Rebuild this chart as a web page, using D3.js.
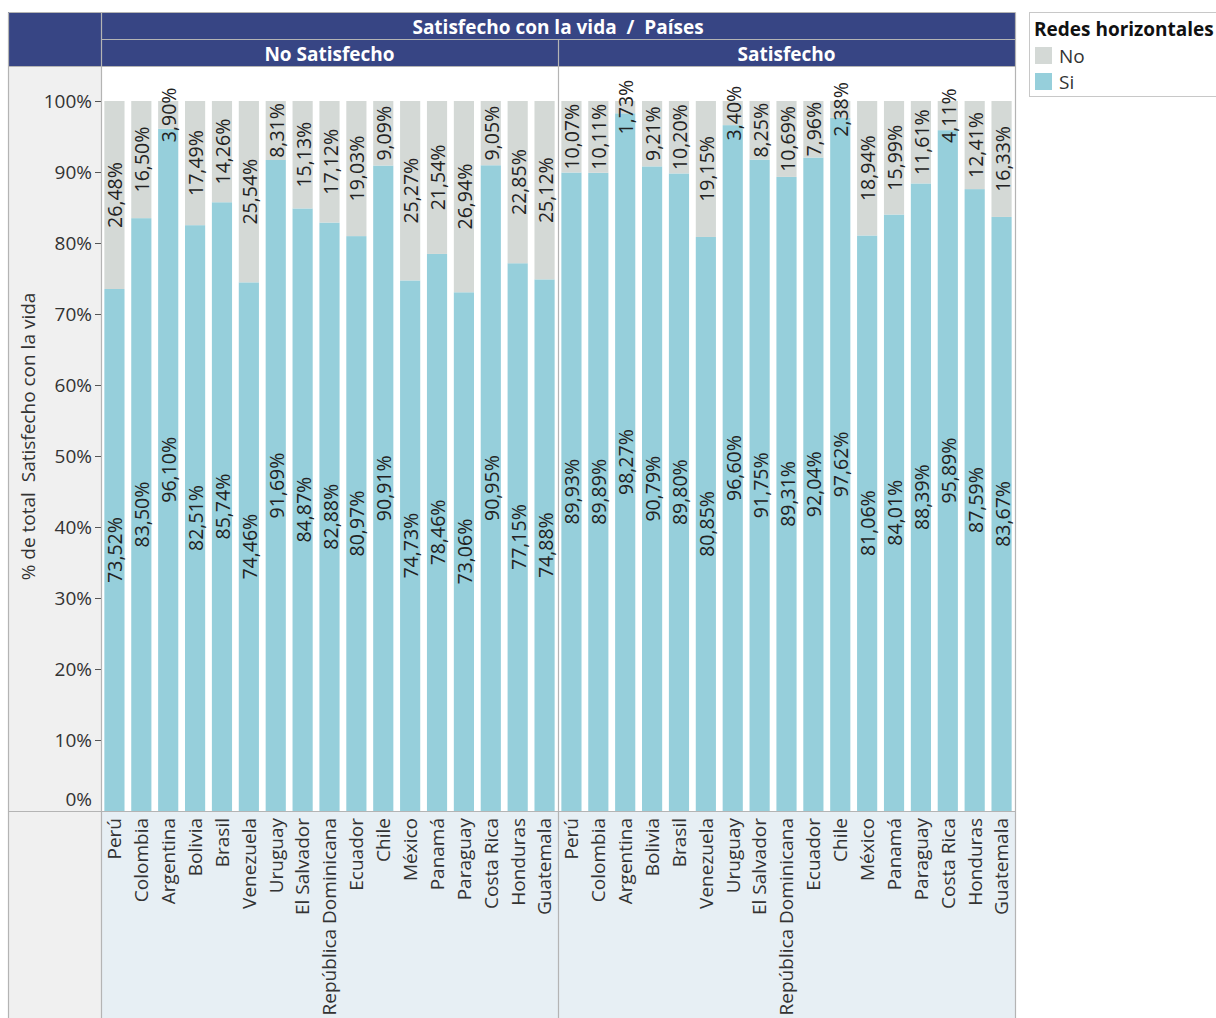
<!DOCTYPE html>
<html>
<head>
<meta charset="utf-8">
<script src="https://d3js.org/d3.v7.min.js"></script>
<style>
  body { margin: 0; background: #fff; }
  text { font-family: "Open Sans", "Noto Sans", sans-serif; }
</style>
</head>
<body>
<div id="draw"></div>
<script>
// countries, same order in both panels
var countries = ["Perú", "Colombia", "Argentina", "Bolivia", "Brasil", "Venezuela", "Uruguay",
	"El Salvador", "República Dominicana", "Ecuador", "Chile", "México", "Panamá", "Paraguay",
	"Costa Rica", "Honduras", "Guatemala"];

var panels = ["No Satisfecho", "Satisfecho"];
var seriesNames = ["No", "Si"];

// % Si / No of "Redes horizontales" per panel
var noSatSi = [73.52, 83.50, 96.10, 82.51, 85.74, 74.46, 91.69, 84.87, 82.88, 80.97, 90.91, 74.73, 78.46, 73.06, 90.95, 77.15, 74.88];
var noSatNo = [26.48, 16.50, 3.90, 17.49, 14.26, 25.54, 8.31, 15.13, 17.12, 19.03, 9.09, 25.27, 21.54, 26.94, 9.05, 22.85, 25.12];
var satSi = [89.93, 89.89, 98.27, 90.79, 89.80, 80.85, 96.60, 91.75, 89.31, 92.04, 97.62, 81.06, 84.01, 88.39, 95.89, 87.59, 83.67];
var satNo = [10.07, 10.11, 1.73, 9.21, 10.20, 19.15, 3.40, 8.25, 10.69, 7.96, 2.38, 18.94, 15.99, 11.61, 4.11, 12.41, 16.33];

var yTicks = [0, 10, 20, 30, 40, 50, 60, 70, 80, 90, 100];

var width = 1216, height = 1018;
var left = 8, axisRight = 101, plotRight = 1015;
var top1 = 12, top2 = 39, plotTop = 66, plotBottom = 811, bottom = 1018;
var headColor = "#374584", lineColor = "#b4b4b4";
var colors = { "No": "#d4d9d6", "Si": "#96cfdb" };

var svg = d3.select("#draw").append("svg")
	.attr("width", width)
	.attr("height", height);

var panelWidth = (plotRight - axisRight) / 2;

var y = d3.scaleLinear()
	.domain([0, 100])
	.range([plotBottom, plotBottom - 710]);

// backgrounds
svg.append("rect")
	.attr("x", left).attr("y", plotTop)
	.attr("width", axisRight - left).attr("height", bottom - plotTop)
	.attr("fill", "#f0f0f0");
svg.append("rect")
	.attr("x", axisRight).attr("y", plotBottom)
	.attr("width", plotRight - axisRight).attr("height", bottom - plotBottom)
	.attr("fill", "#e7eff4");
svg.append("rect")
	.attr("x", left).attr("y", top1)
	.attr("width", plotRight - left).attr("height", plotTop - top1)
	.attr("fill", headColor);

svg.append("text")
	.attr("x", axisRight + panelWidth)
	.attr("y", (top1 + top2) / 2 + 2)
	.attr("dy", "0.35em")
	.attr("text-anchor", "middle")
	.attr("fill", "white")
	.attr("xml:space", "preserve")
	.style("font-weight", "bold")
	.style("font-size", "19px")
	.text("Satisfecho con la vida  /  Países");

var data = [
	{ panel: panels[0], si: noSatSi, no: noSatNo },
	{ panel: panels[1], si: satSi, no: satNo }
];

var fmt = function(v){ return d3.format(".2f")(v).replace(".", ",") + "%"; };

data.forEach(function(p, k){
	var x0 = axisRight + k * panelWidth;
	var x = d3.scaleBand()
		.domain(countries)
		.range([x0, x0 + panelWidth])
		.paddingInner(0.25)
		.paddingOuter(0.125);

	svg.append("text")
		.attr("x", x0 + panelWidth / 2)
		.attr("y", (top2 + plotTop) / 2 + 2)
		.attr("dy", "0.35em")
		.attr("text-anchor", "middle")
		.attr("fill", "white")
		.style("font-weight", "bold")
		.style("font-size", "19px")
		.text(p.panel);

	var rows = countries.map(function(c, i){
		return { country: c, Si: p.si[i], No: p.no[i] };
	});
	var stacked = d3.stack().keys(["Si", "No"])(rows);

	var g = svg.append("g");
	stacked.forEach(function(layer){
		g.selectAll(null)
			.data(layer)
			.enter()
			.append("rect")
			.attr("x", function(d){ return x(d.data.country); })
			.attr("width", x.bandwidth())
			.attr("y", function(d){ return y(d[1]); })
			.attr("height", function(d){ return y(d[0]) - y(d[1]); })
			.attr("fill", colors[layer.key]);
	});
	stacked.forEach(function(layer){
		g.selectAll(null)
			.data(layer)
			.enter()
			.append("text")
			.attr("transform", function(d){
				var cx = x(d.data.country) + x.bandwidth() / 2 + 1;
				var cy = y((d[0] + d[1]) / 2);
				return "translate(" + cx + "," + cy + ") rotate(-90)";
			})
			.attr("dy", "0.36em")
			.attr("text-anchor", "middle")
			.attr("fill", "#222")
			.style("font-size", "19.5px")
			.text(function(d){ return fmt(d.data[layer.key]); });
	});

	// country labels
	g.selectAll(null)
		.data(countries)
		.enter()
		.append("text")
		.attr("transform", function(d){
			return "translate(" + (x(d) + x.bandwidth() / 2) + "," + (plotBottom + 7) + ") rotate(-90)";
		})
		.attr("dy", "0.36em")
		.attr("text-anchor", "end")
		.attr("fill", "#333")
		.style("font-size", "19px")
		.text(function(d){ return d; });
});

// y axis
var axis = svg.append("g")
	.attr("transform", "translate(" + axisRight + ",0)")
	.call(d3.axisLeft(y).tickValues(yTicks).tickSize(6).tickPadding(3)
		.tickFormat(function(d){ return d + "%"; }));
axis.select(".domain").remove();
axis.selectAll(".tick line").attr("stroke", "#555");
axis.selectAll(".tick text")
	.attr("fill", "#333")
	.style("font-size", "19px")
	.style("font-family", "'Open Sans', sans-serif");
axis.selectAll(".tick").filter(function(d){ return d === 0; })
	.each(function(){
		d3.select(this).select("line").remove();
		d3.select(this).select("text").attr("y", -12);
	});

svg.append("text")
	.attr("transform", "translate(28," + ((plotTop + plotBottom) / 2 - 2) + ") rotate(-90)")
	.attr("dy", "0.36em")
	.attr("text-anchor", "middle")
	.attr("fill", "#333")
	.attr("xml:space", "preserve")
	.style("font-size", "19px")
	.text("% de total  Satisfecho con la vida");

// grid lines
var lines = [
	[axisRight, top2, plotRight, top2],
	[left, plotTop, plotRight, plotTop],
	[left, plotBottom, plotRight, plotBottom],
	[axisRight, top1, axisRight, bottom],
	[axisRight + panelWidth, top2, axisRight + panelWidth, bottom],
	[left, top1, plotRight, top1],
	[left, top1, left, bottom],
	[plotRight, top1, plotRight, bottom]
];
svg.selectAll(null)
	.data(lines)
	.enter()
	.append("line")
	.attr("x1", function(d){ return d[0] + 0.5; })
	.attr("y1", function(d){ return d[1] + 0.5; })
	.attr("x2", function(d){ return d[2] + 0.5; })
	.attr("y2", function(d){ return d[3] + 0.5; })
	.attr("stroke", lineColor)
	.attr("stroke-width", 1.2);

// legend
var legend = svg.append("g").attr("transform", "translate(1029,12)");
legend.append("rect")
	.attr("x", 0.5).attr("y", 0.5)
	.attr("width", 190).attr("height", 84)
	.attr("fill", "white")
	.attr("stroke", "#c8c8c8");
legend.append("text")
	.attr("x", 5).attr("y", 17)
	.attr("dy", "0.36em")
	.attr("fill", "#111")
	.style("font-weight", "bold")
	.style("font-size", "19px")
	.text("Redes horizontales");
seriesNames.forEach(function(s, i){
	legend.append("rect")
		.attr("x", 6).attr("y", 35 + i * 26)
		.attr("width", 17).attr("height", 17)
		.attr("fill", colors[s]);
	legend.append("text")
		.attr("x", 30).attr("y", 44 + i * 26)
		.attr("dy", "0.36em")
		.attr("fill", "#333")
		.style("font-size", "19px")
		.text(s);
});
</script>
</body>
</html>
